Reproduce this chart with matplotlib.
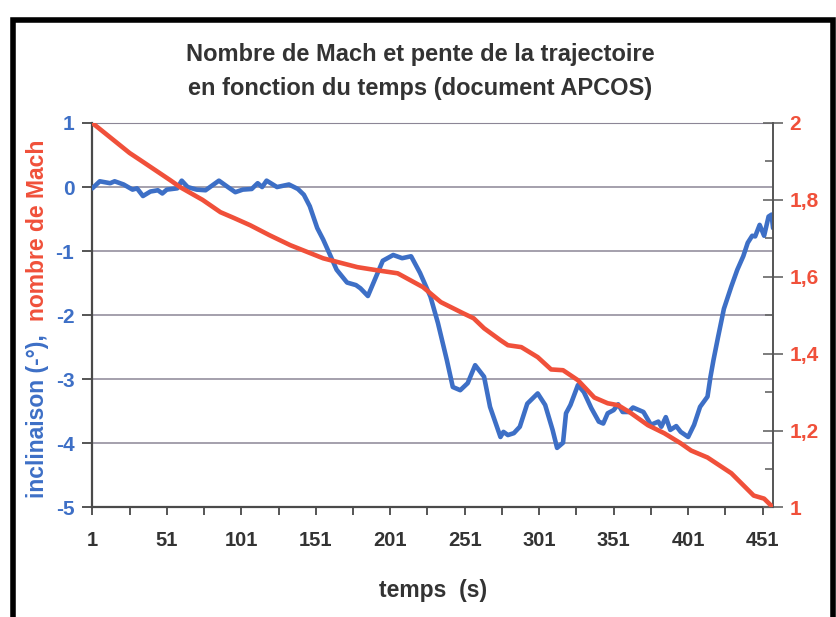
import matplotlib.pyplot as plt
from matplotlib.lines import Line2D

# Nombre de Mach (axe de droite)
t_mach = [1, 26, 33, 53, 60, 75, 87, 96, 107, 120, 134, 156, 179, 192, 206,
          223, 235, 250, 257, 264, 275, 280, 289, 300, 309, 317, 327, 338,
          347, 354, 362, 374, 385, 396, 403, 414, 430, 445, 452, 458]
mach = [2.0, 1.922, 1.904, 1.852, 1.833, 1.80, 1.768, 1.753, 1.734, 1.708,
        1.682, 1.648, 1.625, 1.617, 1.609, 1.573, 1.534, 1.505, 1.492, 1.466,
        1.435, 1.422, 1.417, 1.391, 1.359, 1.357, 1.331, 1.286, 1.271, 1.266,
        1.247, 1.214, 1.193, 1.167, 1.148, 1.130, 1.089, 1.031, 1.023, 1.0]

# inclinaison de la trajectoire en degres (axe de gauche)
t_incl = [1, 6, 13, 16, 22, 28, 31, 35, 40, 45, 48, 51, 58, 61, 65, 71, 77,
          86, 92, 97, 102, 108, 112, 115, 118, 125, 133, 139, 143, 147, 152,
          156, 161, 165, 172, 178, 181, 186, 190, 196, 203, 209, 215, 221,
          228, 233, 239, 243, 248, 253, 258, 264, 268, 275, 277, 280, 284,
          288, 293, 300, 305, 310, 313, 317, 319, 322, 327, 331, 336, 341,
          344, 347, 351, 354, 357, 361, 364, 368, 371, 376, 381, 383, 386,
          389, 393, 396, 401, 405, 409, 414, 416, 418, 421, 425, 430, 434,
          438, 441, 444, 446, 449, 452, 455, 457, 458]
incl = [-0.02, 0.09, 0.06, 0.09, 0.04, -0.04, -0.02, -0.14, -0.07, -0.05,
        -0.10, -0.04, -0.02, 0.10, 0.0, -0.04, -0.05, 0.10, 0.0, -0.08, -0.04,
        -0.03, 0.06, 0.0, 0.10, 0.0, 0.04, -0.03, -0.12, -0.30, -0.64, -0.82,
        -1.08, -1.29, -1.49, -1.53, -1.58, -1.70, -1.48, -1.15, -1.06, -1.11,
        -1.08, -1.34, -1.71, -2.12, -2.70, -3.12, -3.17, -3.06, -2.78, -2.96,
        -3.43, -3.90, -3.82, -3.87, -3.84, -3.74, -3.38, -3.22, -3.40, -3.79,
        -4.07, -3.99, -3.53, -3.40, -3.09, -3.20, -3.45, -3.66, -3.69, -3.53,
        -3.48, -3.39, -3.51, -3.51, -3.44, -3.48, -3.51, -3.71, -3.66, -3.74,
        -3.59, -3.79, -3.73, -3.82, -3.90, -3.71, -3.43, -3.27, -2.96, -2.70,
        -2.35, -1.90, -1.55, -1.29, -1.08, -0.87, -0.76, -0.77, -0.59, -0.76,
        -0.46, -0.43, -0.64]

x_ticks = list(range(1, 452, 25))
x_labels = [str(v) if (v - 1) % 50 == 0 else '' for v in x_ticks]
left_ticks = [-5, -4, -3, -2, -1, 0, 1]
left_labels = ['-5', '-4', '-3', '-2', '-1', '0', '1']
right_ticks = [1, 1.2, 1.4, 1.6, 1.8, 2]
right_labels = ['1', '1,2', '1,4', '1,6', '1,8', '2']
right_minor = [1.1, 1.3, 1.5, 1.7, 1.9]

bleu = '#3d6fc6'
rouge = '#f0503a'
gris = '#333333'

plt.rcParams['font.family'] = ['Liberation Sans', 'DejaVu Sans']
plt.rcParams['font.weight'] = 'bold'

fig = plt.figure(figsize=(8.37, 6.17), dpi=100)
ax = fig.add_axes([0.1103, 0.1775, 0.8133, 0.6232])

ax.plot(t_incl, incl, color=bleu, lw=3.3, solid_capstyle='round', zorder=3)
ax.set_xlim(1, 458)
ax.set_ylim(-5, 1)
ax.set_xticks(x_ticks)
ax.set_xticklabels(x_labels)
ax.set_yticks(left_ticks)
ax.set_yticklabels(left_labels)
ax.tick_params(axis='x', direction='out', length=6, width=1.4, color='#555555',
               labelcolor=gris, labelsize=14.5, pad=11)
ax.tick_params(axis='y', direction='out', length=7, width=1.4, color='#555555',
               labelcolor=bleu, labelsize=15, pad=6)
ax.grid(axis='y', color='#8c8696', lw=1.1)
ax.set_axisbelow(True)
for s in ['left', 'bottom']:
    ax.spines[s].set_color('#4a4a4a')
    ax.spines[s].set_linewidth(1.6)
ax.spines['top'].set_color('#8c8696')
ax.spines['right'].set_visible(False)

ax2 = ax.twinx()
ax2.plot(t_mach, mach, color=rouge, lw=3.3, solid_capstyle='round', zorder=4)
ax2.set_ylim(1, 2)
ax2.set_yticks(right_ticks)
ax2.set_yticklabels(right_labels)
ax2.set_yticks(right_minor, minor=True)
ax2.tick_params(axis='y', which='major', direction='inout', length=14, width=1.2,
                color='#666666', labelcolor=rouge, labelsize=15, pad=5)
ax2.tick_params(axis='y', which='minor', direction='in', length=6, width=1.2,
                color='#666666')
ax2.spines['right'].set_color('#555555')
ax2.spines['right'].set_linewidth(1.4)
for s in ['left', 'bottom', 'top']:
    ax2.spines[s].set_visible(False)

# titre et legendes des axes
fig.text(0.502, 1 - 55 / 617, 'Nombre de Mach et pente de la trajectoire',
         ha='center', va='center', fontsize=17, color=gris)
fig.text(0.502, 1 - 88 / 617, 'en fonction du temps (document APCOS)',
         ha='center', va='center', fontsize=17, color=gris)
fig.text(433 / 837, 1 - 590 / 617, 'temps  (s)', ha='center', va='center',
         fontsize=16.5, color=gris)
fig.text(38 / 837, 1 - 498 / 617, 'inclinaison (-°),', rotation=90,
         ha='center', va='bottom', fontsize=16.5, color=bleu)
fig.text(38 / 837, 1 - 140 / 617, 'nombre de Mach', rotation=90,
         ha='center', va='top', fontsize=16.5, color=rouge)

# cadre noir
x0, x1, y1 = 13 / 837, 833 / 837, 1 - 20 / 617
fig.add_artist(Line2D([x0, x0, x1, x1], [0, y1, y1, 0], transform=fig.transFigure,
                      color='black', lw=4, solid_joinstyle='miter'))

fig.savefig('out.png', dpi=100)
